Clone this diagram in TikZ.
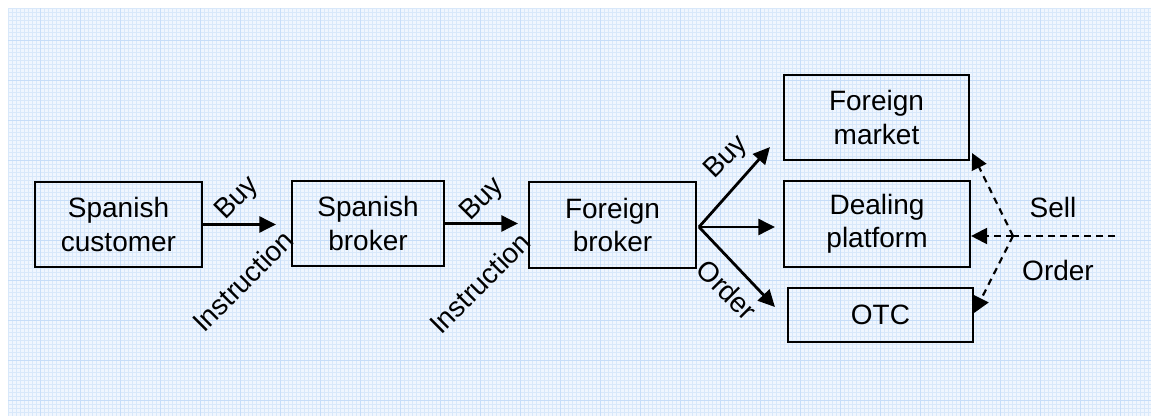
\documentclass[tikz,border=0pt]{standalone}
\usepackage{fontspec}
\setmainfont{Liberation Sans}
\usetikzlibrary{arrows.meta}
\definecolor{paperbg}{HTML}{F0F6FE}
\definecolor{paperfine}{HTML}{D8E8FA}
\definecolor{papercoarse}{HTML}{C6DDF8}
\tikzset{
	block/.style={draw, line width=1.6pt, align=center, inner sep=0pt},
	flow/.style={line width=2.1pt, -{Triangle[length=12.5pt, width=12pt]}},
	sellflow/.style={line width=1.6pt, dash pattern=on 5pt off 4pt, -{Triangle[length=12pt, width=12pt]}},
	lbl/.style={inner sep=0pt},
}

\begin{document}
\begin{tikzpicture}[x=0.75pt, y=-0.75pt, font=\fontsize{21}{25}\selectfont]
	% Paper background:
	\useasboundingbox (0,0) rectangle (1151,416);
	\fill[paperbg] (8,8) rectangle (1151,416);
	\draw[paperfine, line width=0.4pt, step=3pt] (8,416) grid (1151,8);
	\draw[papercoarse, line width=0.5pt, step=30pt] (8,416) grid (1151,8);
	% Boxes:
	\node[block, minimum width=125.25pt, minimum height=63.75pt] (cust) at (118.5, 224.5) {Spanish\\customer};
	\node[block, minimum width=114pt, minimum height=63.75pt] (sbrok) at (368, 223.5) {Spanish\\broker};
	\node[block, minimum width=125.25pt, minimum height=64.5pt] (fbrok) at (612.5, 225) {Foreign\\broker};
	\node[block, minimum width=138.75pt, minimum height=63.75pt] (fmkt) at (876.5, 117.5) {Foreign\\market};
	\node[block, minimum width=139.5pt, minimum height=64.5pt] (dplat) at (877, 224) {Dealing\\platform};
	\node[block, minimum width=138.75pt, minimum height=40.5pt] (otc) at (880.5, 315) {OTC};
	% Buy instruction arrows:
	\draw[flow, shorten >=11.25pt] (cust.east) -- (cust.east -| sbrok.west);
	\draw[flow, shorten >=7.5pt] (sbrok.east) -- (sbrok.east -| fbrok.west);
	\node[lbl, rotate=45] (buy1) at (238, 199) {Buy};
	\node[lbl, rotate=45] (instr1) at (243, 281) {Instruction};
	\node[lbl, rotate=45] (buy2) at (483, 200) {Buy};
	\node[lbl, rotate=45] (instr2) at (480, 283) {Instruction};
	% Buy order fan:
	\coordinate (fan) at (699, 227);
	\draw[flow] (fan) -- ([shift={(-13,-14)}]fmkt.south west);
	\draw[flow, shorten >=6pt] (fan) -- (fan -| dplat.west);
	\draw[flow] (fan) -- ([shift={(-12,-8)}]otc.west);
	\node[lbl, rotate=45] (buy3) at (727, 158) {Buy};
	\node[lbl, rotate=-45] (order1) at (727, 290) {Order};
	% Sell order:
	\coordinate (sellpt) at (1013, 236);
	\coordinate (sellend) at (1115, 236);
	\draw[line width=1.6pt, dash pattern=on 5pt off 4pt] (sellend) -- (sellpt);
	\draw[sellflow] (sellpt) -- (sellpt -| dplat.east);
	\draw[sellflow] (sellpt) -- ([shift={(2,-8)}]fmkt.south east);
	\draw[sellflow] (sellpt) -- ([shift={(0,-2)}]otc.east);
	\node[lbl] (sell) at (1053, 207) {Sell};
	\node[lbl] (order2) at (1058, 270) {Order};
\end{tikzpicture}
\end{document}
